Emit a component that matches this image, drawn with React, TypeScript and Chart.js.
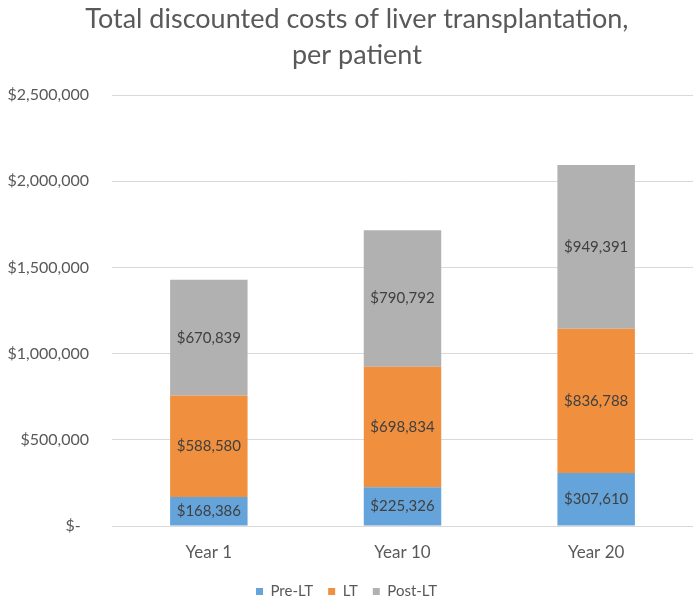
import React, { useEffect, useRef } from "react";
import { Chart, registerables } from "chart.js";

Chart.register(...registerables);

const titleLines = ["Total discounted costs of liver transplantation,", "per patient"];
const categories = ["Year 1", "Year 10", "Year 20"];
const seriesNames = ["Pre-LT", "LT", "Post-LT"];
const preLT = [168386, 225326, 307610];
const lt = [588580, 698834, 836788];
const postLT = [670839, 790792, 949391];
const seriesColors = ["#64A4DB", "#F08F3D", "#B1B1B1"];
const yMin = 0;
const yMax = 2500000;
const yStep = 500000;

const FONT = "Lato";
const TEXT = "#595959";

function fmtMoney(v: number): string {
  if (v === 0) return "$-  ";
  return "$" + String(Math.round(v)).replace(/\B(?=(\d{3})+(?!\d))/g, ",");
}

const barLabelPlugin = {
  id: "barLabels",
  afterDatasetsDraw(chart: any) {
    const ctx = chart.ctx;
    ctx.save();
    ctx.font = `15px ${FONT}`;
    ctx.fillStyle = "#404040";
    ctx.textAlign = "center";
    ctx.textBaseline = "middle";
    chart.data.datasets.forEach((ds: any, i: number) => {
      const meta = chart.getDatasetMeta(i);
      meta.data.forEach((el: any, j: number) => {
        const p = el.getProps(["x", "y", "base"], true);
        ctx.fillText(fmtMoney(ds.data[j]), p.x, (p.y + p.base) / 2);
      });
    });
    ctx.restore();
  },
};

export default function App() {
  const ref = useRef<HTMLCanvasElement | null>(null);

  useEffect(() => {
    if (!ref.current) return;
    const seriesValues = [preLT, lt, postLT];
    const chart = new Chart(ref.current, {
      type: "bar",
      data: {
        labels: categories,
        datasets: seriesNames.map((name, i) => ({
          label: name,
          data: seriesValues[i],
          backgroundColor: seriesColors[i],
          borderWidth: 0,
          categoryPercentage: 0.8,
          barPercentage: 0.5,
        })),
      },
      options: {
        responsive: false,
        animation: false,
        layout: { padding: { left: 0, right: 7, top: 0, bottom: -5 } },
        plugins: {
          title: {
            display: true,
            text: titleLines.map((t) => "   " + t),
            color: TEXT,
            font: { family: FONT, size: 27, weight: "normal", lineHeight: 36 / 27 },
            padding: { top: 1, bottom: 22 },
          },
          legend: {
            display: true,
            position: "bottom",
            labels: {
              boxWidth: 7,
              boxHeight: 7,
              padding: 15,
              color: TEXT,
              font: { family: FONT, size: 15 },
            },
          },
          tooltip: { enabled: false },
        },
        scales: {
          x: {
            stacked: true,
            grid: { display: false, drawTicks: false },
            border: { display: false },
            ticks: { color: TEXT, font: { family: FONT, size: 17 }, padding: 16 },
            afterFit: (s: any) => {
              s.height = 43;
            },
          },
          y: {
            stacked: true,
            min: yMin,
            max: yMax,
            grid: { color: "#D9D9D9", lineWidth: 1, drawTicks: false },
            border: { display: false },
            ticks: {
              stepSize: yStep,
              color: TEXT,
              font: { family: FONT, size: 16 },
              padding: 23,
              callback: (v: any) => fmtMoney(Number(v)),
            },
            afterFit: (s: any) => {
              s.width = 112;
            },
          },
        },
      },
      plugins: [barLabelPlugin],
    });
    return () => chart.destroy();
  }, []);

  return (
    <div style={{ position: "absolute", left: 0, top: 0, width: 700, height: 604, background: "#fff" }}>
      <canvas ref={ref} width={700} height={604} />
    </div>
  );
}
